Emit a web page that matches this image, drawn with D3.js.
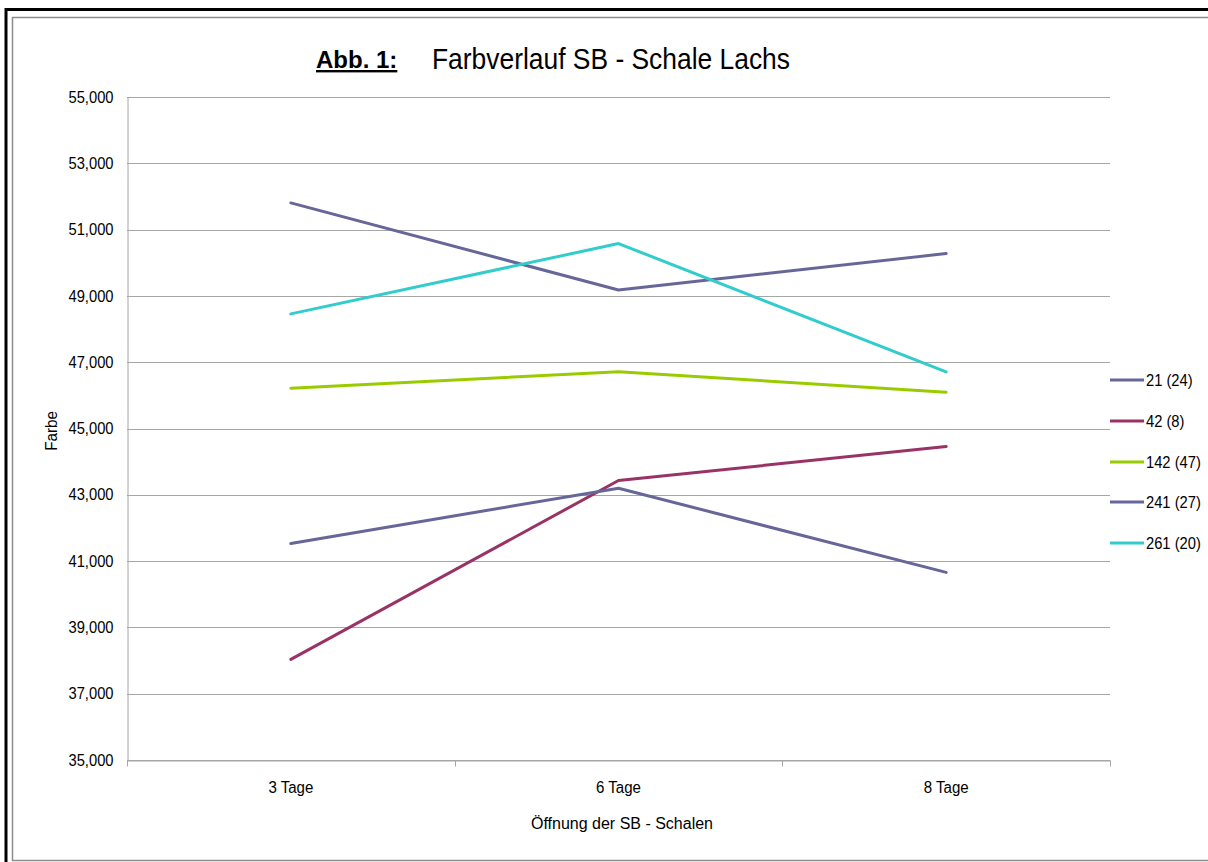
<!DOCTYPE html>
<html>
<head>
<meta charset="utf-8">
<script src="https://cdn.jsdelivr.net/npm/d3@7"></script>
<style>
  body { margin: 0; background: #fff; }
  svg { display: block; }
  text { font-family: "Liberation Sans Narrow", "Arial Narrow", "Liberation Sans", sans-serif; fill: #000; }
</style>
</head>
<body>
<svg id="chart" width="1208" height="862"></svg>
<script>
// data
const categories = ["3 Tage", "6 Tage", "8 Tage"];
const seriesNames = ["21 (24)", "42 (8)", "142 (47)", "241 (27)", "261 (20)"];
const seriesColors = ["#666699", "#993366", "#99cc00", "#666699", "#33cccc"];
const values21 = [51805, 49180, 50276];
const values42 = [38035, 43431, 44457];
const values142 = [46216, 46710, 46095];
const values241 = [41534, 43199, 40659];
const values261 = [48457, 50578, 46708];
const yTicks = [35000, 37000, 39000, 41000, 43000, 45000, 47000, 49000, 51000, 53000, 55000];

const allValues = [values21, values42, values142, values241, values261];

const svg = d3.select("#chart");
const plot = { left: 127, right: 1110, top: 97, bottom: 760 };
const fontNarrow = '"Liberation Sans Narrow", "Arial Narrow", "Liberation Sans", sans-serif';

// squeeze text so it looks like the narrow font of the original
function narrow(sel, f) {
  sel.each(function () {
    const len = this.getComputedTextLength();
    d3.select(this).attr("textLength", len * f).attr("lengthAdjust", "spacingAndGlyphs");
  });
}

// frames
svg.append("rect").attr("x", 12.5).attr("y", 17.5).attr("width", 1220).attr("height", 843)
  .attr("fill", "none").attr("stroke", "#8c8c8c").attr("stroke-width", 1.5);
svg.append("path").attr("d", "M6,870 V9.5 H1220")
  .attr("fill", "none").attr("stroke", "#000").attr("stroke-width", 3);

const x = d3.scaleBand().domain(categories).range([plot.left, plot.right]);
const y = d3.scaleLinear().domain([35000, 55000]).range([plot.bottom, plot.top]);

// gridlines
svg.append("g").selectAll("line").data(yTicks).join("line")
  .attr("x1", plot.left).attr("x2", plot.right)
  .attr("y1", d => Math.round(y(d)) + 0.5).attr("y2", d => Math.round(y(d)) + 0.5)
  .attr("stroke", "#a6a6a6").attr("stroke-width", 1);

// y axis
const yAxis = svg.append("g").attr("transform", `translate(${plot.left + 0.5},0)`)
  .call(d3.axisLeft(y).tickValues(yTicks).tickSize(0).tickPadding(14)
    .tickFormat(d => d3.format(",")(d)));
yAxis.select(".domain").attr("stroke", "#a6a6a6");
yAxis.selectAll("text").style("font-size", "16px").style("font-family", fontNarrow)
  .call(narrow, 0.92);

// x axis
const xAxis = svg.append("g").attr("transform", `translate(0,${Math.round(plot.bottom) + 0.5})`)
  .call(d3.axisBottom(x).tickSize(0).tickPadding(21));
xAxis.select(".domain").attr("stroke", "#a6a6a6");
xAxis.selectAll("text").style("font-size", "16px").style("font-family", fontNarrow)
  .call(narrow, 0.94);
const boundaries = categories.map(c => x(c)).concat([x(categories[categories.length - 1]) + x.bandwidth()]);
xAxis.selectAll(".bound").data(boundaries).join("line").attr("class", "bound")
  .attr("x1", d => Math.round(d) + 0.5).attr("x2", d => Math.round(d) + 0.5)
  .attr("y1", 0).attr("y2", 6).attr("stroke", "#a6a6a6");

// lines
const line = d3.line()
  .x((d, i) => x(categories[i]) + x.bandwidth() / 2)
  .y(d => y(d));
svg.append("g").selectAll("path").data(allValues).join("path")
  .attr("d", d => line(d))
  .attr("fill", "none")
  .attr("stroke", (d, i) => seriesColors[i])
  .attr("stroke-width", 3)
  .attr("stroke-linecap", "round")
  .attr("stroke-linejoin", "round");

// legend
const legendY = [380, 421, 462, 502, 543];
const legend = svg.append("g").selectAll("g").data(seriesNames).join("g")
  .attr("transform", (d, i) => `translate(1110,${legendY[i]})`);
legend.append("line").attr("x1", 0).attr("x2", 34).attr("y1", 0).attr("y2", 0)
  .attr("stroke", (d, i) => seriesColors[i]).attr("stroke-width", 3);
legend.append("text").attr("x", 36).attr("y", 6).style("font-size", "16px").text(d => d)
  .call(narrow, 0.92);

// axis titles
svg.append("text").attr("transform", "translate(57,431) rotate(-90)")
  .attr("text-anchor", "middle").style("font-size", "16px").text("Farbe")
  .call(narrow, 0.95);
svg.append("text").attr("x", 622).attr("y", 829)
  .attr("text-anchor", "middle").style("font-size", "16px").text("Öffnung der SB - Schalen")
  .call(narrow, 1.0);

// title
svg.append("text").attr("x", 316).attr("y", 68)
  .style("font-family", '"Liberation Sans", Arial, sans-serif')
  .style("font-size", "24px").style("font-weight", "bold")
  .style("text-decoration", "underline").text("Abb. 1:");
svg.append("text").attr("x", 432).attr("y", 69)
  .style("font-size", "30px").text("Farbverlauf SB - Schale Lachs")
  .attr("textLength", 358).attr("lengthAdjust", "spacingAndGlyphs");
</script>
</body>
</html>
